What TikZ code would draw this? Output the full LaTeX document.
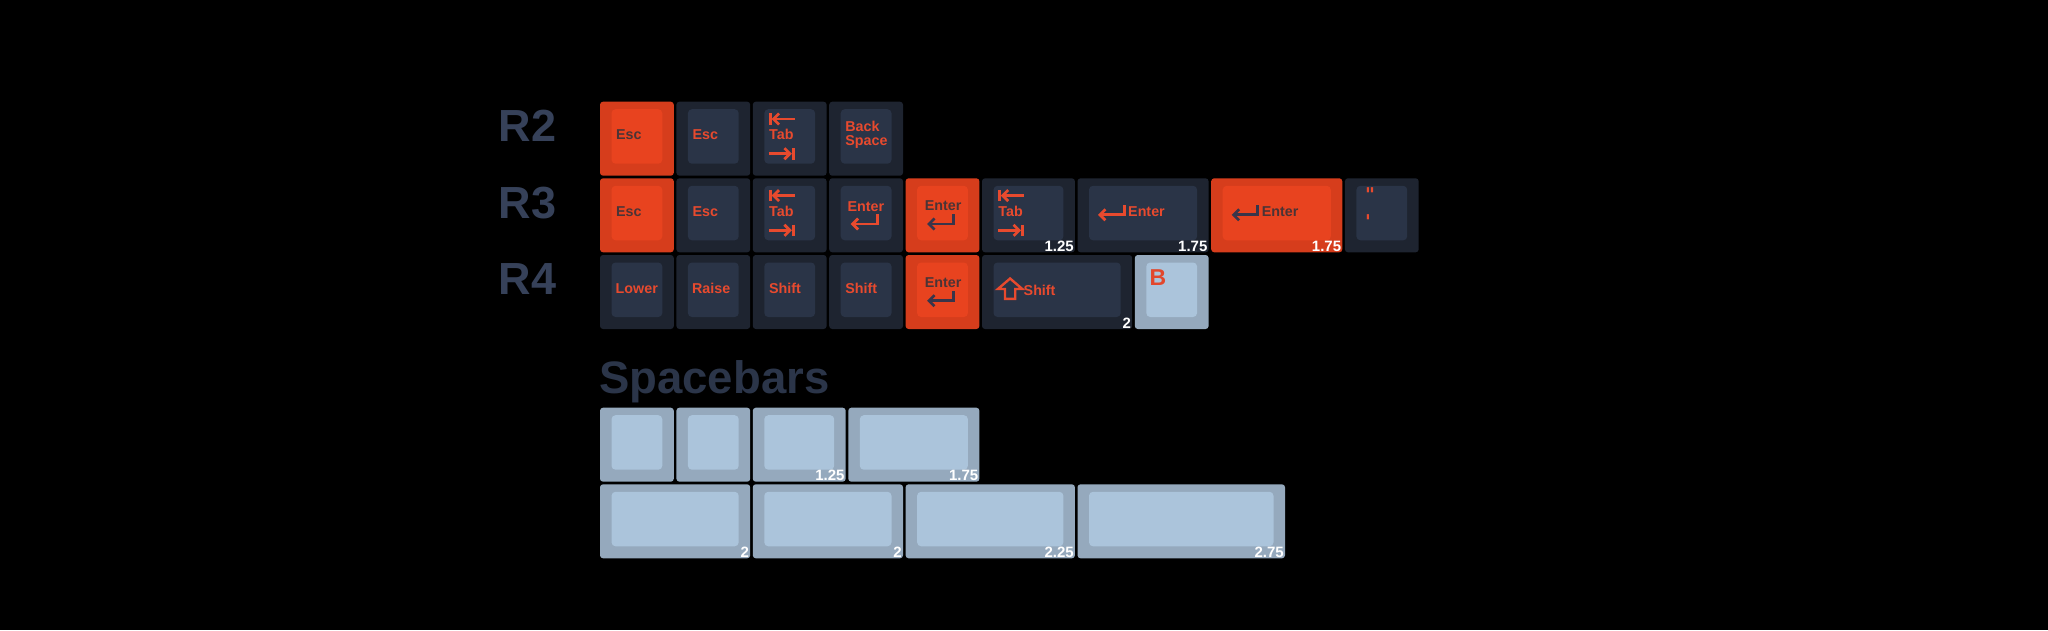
\documentclass[tikz,border=0pt]{standalone}
\usepackage{fontspec}
\setmainfont{Liberation Sans}
\newfontfamily\quotefont{DejaVu Sans}
\usetikzlibrary{arrows.meta}
\definecolor{orOut}{HTML}{D63D1C}
\definecolor{orIn}{HTML}{E8431F}
\definecolor{dkOut}{HTML}{1E2430}
\definecolor{dkIn}{HTML}{2A3447}
\definecolor{lbOut}{HTML}{95A9BD}
\definecolor{lbIn}{HTML}{ABC4DB}
\definecolor{legOr}{HTML}{E84A2E}
\definecolor{legDk}{HTML}{4A3436}
\definecolor{arDk}{HTML}{38354A}
\definecolor{rowLab}{HTML}{364159}
\definecolor{titleCol}{HTML}{2B3549}
\definecolor{bLeg}{HTML}{E2472C}
% key: #1 name, #2 column (units), #3 top y, #4 width (units), #5 rim colour, #6 top colour
\newcommand\kcap[6]{%
  \fill[#5, rounded corners=3pt] ({600+#2*76.4},#3) rectangle ({600+(#2+#4)*76.4-2.6},#3+74);
  \fill[#6, rounded corners=4pt] ({600+#2*76.4+11.5},#3+7.5) rectangle ({600+(#2+#4)*76.4-2.6-11.5},#3+62);
  \coordinate (#1) at ({600+#2*76.4},#3);
  \coordinate (#1se) at ({600+(#2+#4)*76.4-2.6},#3+74);
}
\newcommand\tabsym[2]{%
  \begin{scope}[shift={(#1)}]
    \draw[#2] (17.4,11.5) -- (17.4,23);
    \draw[#2,tipx] (42,17.3) -- (18.8,17.3);
    \draw[#2,tipx] (16,52) -- (39,52);
    \draw[#2] (40.6,46.3) -- (40.6,57.8);
  \end{scope}}
\newcommand\entersym[2]{%
  \begin{scope}[shift={(#1)}]
    \draw[#2,tipx] (48,36) -- (48,45.7) -- (21.5,45.7);
  \end{scope}}
\newcommand\enterh[2]{%
  \begin{scope}[shift={(#1)}]
    \draw[#2,tipx] (46.7,27) -- (46.7,36.5) -- (20.5,36.5);
  \end{scope}}
\newcommand\shiftsym[2]{%
  \begin{scope}[shift={(#1)}]
    \draw[#2, line width=2.4pt, line join=miter] (28.1,23.5) -- (40.3,34) -- (33.2,34) -- (33.2,43.8) -- (23,43.8) -- (23,34) -- (15.9,34) -- cycle;
  \end{scope}}
\begin{document}
\begin{tikzpicture}[x=1pt,y=-1pt,
  lg/.style={font=\bfseries\fontsize{14.3}{15}\selectfont, text=legOr, inner sep=0pt, anchor=base west},
  lgd/.style={lg, text=legDk},
  sz/.style={font=\bfseries\fontsize{15}{16}\selectfont, text=white, inner sep=0pt, anchor=south east},
  rlab/.style={font=\bfseries\fontsize{45}{46}\selectfont, text=rowLab, inner sep=0pt, anchor=base west},
  ar/.style={line width=2.9pt, draw=legOr},
  ard/.style={line width=2.9pt, draw=arDk},
  tipx/.style={-{Straight Barb[length=5.5pt,width=11pt,line width=2.7pt]}},
  qt/.style={font=\quotefont\bfseries\fontsize{19}{20}\selectfont, text=legOr, inner sep=0pt, anchor=north west}]
\fill[black] (0,0) rectangle (2048,630);
\useasboundingbox (0,0) rectangle (2048,630);

% row labels
\node[rlab] (r2) at (498.5,141) {R2};
\node[rlab] (r3) at (498.5,218) {R3};
\node[rlab] (r4) at (498.5,294.5) {R4};

% ---- R2
\kcap{a0}{0}{101.7}{1}{orOut}{orIn}
\node[lgd] (a0t) at ([shift={(16,38)}]a0) {Esc};
\kcap{a1}{1}{101.7}{1}{dkOut}{dkIn}
\node[lg] (a1t) at ([shift={(16,38)}]a1) {Esc};
\kcap{a2}{2}{101.7}{1}{dkOut}{dkIn}
\node[lg] (a2t) at ([shift={(16.2,37.8)}]a2) {Tab};
\tabsym{a2}{ar}
\kcap{a3}{3}{101.7}{1}{dkOut}{dkIn}
\node[lg] (a3t) at ([shift={(16,30)}]a3) {Back};
\node[lg] (a3u) at ([shift={(16,43.3)}]a3) {Space};

% ---- R3
\kcap{b0}{0}{178.3}{1}{orOut}{orIn}
\node[lgd] (b0t) at ([shift={(16,38)}]b0) {Esc};
\kcap{b1}{1}{178.3}{1}{dkOut}{dkIn}
\node[lg] (b1t) at ([shift={(16,38)}]b1) {Esc};
\kcap{b2}{2}{178.3}{1}{dkOut}{dkIn}
\node[lg] (b2t) at ([shift={(16.2,37.8)}]b2) {Tab};
\tabsym{b2}{ar}
\kcap{b3}{3}{178.3}{1}{dkOut}{dkIn}
\node[lg] (b3t) at ([shift={(18.3,33.4)}]b3) {Enter};
\entersym{b3}{ar}
\kcap{b4}{4}{178.3}{1}{orOut}{orIn}
\node[lgd] (b4t) at ([shift={(19,32.5)}]b4) {Enter};
\entersym{b4}{ard}
\kcap{b5}{5}{178.3}{1.25}{dkOut}{dkIn}
\node[lg] (b5t) at ([shift={(16.2,37.8)}]b5) {Tab};
\tabsym{b5}{ar}
\node[sz] (b5s) at ([shift={(-1,-0.5)}]b5se) {1.25};
\kcap{b6}{6.25}{178.3}{1.75}{dkOut}{dkIn}
\enterh{b6}{ar}
\node[lg] (b6t) at ([shift={(50.5,38.4)}]b6) {Enter};
\node[sz] (b6s) at ([shift={(-1,-0.5)}]b6se) {1.75};
\kcap{b7}{8}{178.3}{1.75}{orOut}{orIn}
\enterh{b7}{ard}
\node[lgd] (b7t) at ([shift={(50.5,38.4)}]b7) {Enter};
\node[sz] (b7s) at ([shift={(-1,-0.5)}]b7se) {1.75};
\kcap{b8}{9.75}{178.3}{1}{dkOut}{dkIn}
\node[qt] (b8t) at ([shift={(20,9.5)}]b8) {"};
\node[qt] (b8u) at ([shift={(20,36.5)}]b8) {'};

% ---- R4
\kcap{c0}{0}{255}{1}{dkOut}{dkIn}
\node[lg] (c0t) at ([shift={(15.5,38)}]c0) {Lower};
\kcap{c1}{1}{255}{1}{dkOut}{dkIn}
\node[lg] (c1t) at ([shift={(15.5,38)}]c1) {Raise};
\kcap{c2}{2}{255}{1}{dkOut}{dkIn}
\node[lg] (c2t) at ([shift={(16,38)}]c2) {Shift};
\kcap{c3}{3}{255}{1}{dkOut}{dkIn}
\node[lg] (c3t) at ([shift={(16,38)}]c3) {Shift};
\kcap{c4}{4}{255}{1}{orOut}{orIn}
\node[lgd] (c4t) at ([shift={(19,32.5)}]c4) {Enter};
\entersym{c4}{ard}
\kcap{c5}{5}{255}{2}{dkOut}{dkIn}
\shiftsym{c5}{ar}
\node[lg] (c5t) at ([shift={(41.5,40)}]c5) {Shift};
\node[sz] (c5s) at ([shift={(-1,-0.5)}]c5se) {2};
\kcap{c6}{7}{255}{1}{lbOut}{lbIn}
\node[lg, text=bLeg, font=\bfseries\fontsize{23}{24}\selectfont] (c6t) at ([shift={(14.5,30.5)}]c6) {B};

% ---- Spacebars
\node[font=\bfseries\fontsize{45.5}{47}\selectfont, text=titleCol, inner sep=0pt, anchor=base west] (sp) at (599,393) {Spacebars};
\kcap{d0}{0}{407.7}{1}{lbOut}{lbIn}
\kcap{d1}{1}{407.7}{1}{lbOut}{lbIn}
\kcap{d2}{2}{407.7}{1.25}{lbOut}{lbIn}
\node[sz] (d2s) at ([shift={(-1,-0.5)}]d2se) {1.25};
\kcap{d3}{3.25}{407.7}{1.75}{lbOut}{lbIn}
\node[sz] (d3s) at ([shift={(-1,-0.5)}]d3se) {1.75};
\kcap{e0}{0}{484.3}{2}{lbOut}{lbIn}
\node[sz] (e0s) at ([shift={(-1,-0.5)}]e0se) {2};
\kcap{e1}{2}{484.3}{2}{lbOut}{lbIn}
\node[sz] (e1s) at ([shift={(-1,-0.5)}]e1se) {2};
\kcap{e2}{4}{484.3}{2.25}{lbOut}{lbIn}
\node[sz] (e2s) at ([shift={(-1,-0.5)}]e2se) {2.25};
\kcap{e3}{6.25}{484.3}{2.75}{lbOut}{lbIn}
\node[sz] (e3s) at ([shift={(-1,-0.5)}]e3se) {2.75};
\end{tikzpicture}
\end{document}
